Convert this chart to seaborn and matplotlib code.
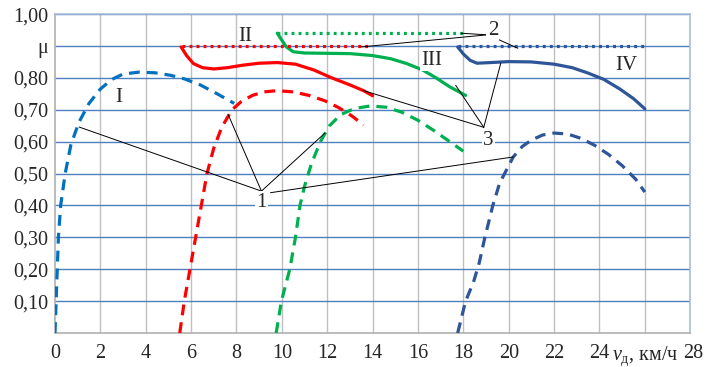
import numpy as np
import pandas as pd
import matplotlib
matplotlib.use("Agg")
import matplotlib.pyplot as plt
import matplotlib.transforms as mtransforms
import seaborn as sns

# dashed curves 1 (I..IV)
x_I = [0.0, 0.05, 0.1, 0.15, 0.25, 0.45, 0.7, 1.05, 1.5, 2.0, 2.5, 3.0, 3.7, 4.4, 5.1, 5.7, 6.4, 7.1, 7.9]
y_I = [0.0, 0.1, 0.2, 0.3, 0.4, 0.5, 0.59, 0.66, 0.72, 0.765, 0.795, 0.812, 0.818, 0.816, 0.808, 0.797, 0.778, 0.752, 0.72]
x_II = [5.5, 5.7, 5.95, 6.2, 6.45, 6.7, 7.0, 7.35, 7.8, 8.2, 8.7, 9.2, 9.8, 10.5, 11.2, 11.9, 12.5, 13.1, 13.6]
y_II = [0.0, 0.1, 0.2, 0.3, 0.4, 0.5, 0.58, 0.645, 0.7, 0.725, 0.745, 0.756, 0.76, 0.756, 0.745, 0.728, 0.707, 0.68, 0.652]
x_III = [9.75, 9.98, 10.35, 10.6, 10.8, 11.0, 11.3, 11.7, 12.1, 12.6, 13.2, 13.9, 14.6, 15.3, 16.0, 16.7, 17.4, 18.0]
y_III = [0.0, 0.1, 0.2, 0.3, 0.4, 0.46, 0.53, 0.6, 0.65, 0.685, 0.704, 0.712, 0.708, 0.692, 0.667, 0.635, 0.6, 0.57]
x_IV = [17.75, 18.1, 18.45, 18.7, 18.95, 19.3, 19.6, 20.2, 20.6, 21.0, 21.5, 22.0, 22.6, 23.2, 23.8, 24.4, 25.0, 25.6, 26.0]
y_IV = [0.0, 0.1, 0.16, 0.22, 0.3, 0.4, 0.47, 0.552, 0.585, 0.605, 0.621, 0.627, 0.624, 0.61, 0.588, 0.56, 0.525, 0.482, 0.442]

# solid curves 3
xs_II = [5.56, 5.8, 6.1, 6.5, 7.0, 7.6, 8.3, 9.0, 9.8, 10.6, 11.4, 12.2, 13.0, 13.6, 14.0]
ys_II = [0.897, 0.87, 0.845, 0.832, 0.828, 0.832, 0.84, 0.846, 0.848, 0.843, 0.825, 0.8, 0.778, 0.76, 0.744]
xs_III = [9.8, 10.0, 10.2, 10.5, 11.0, 12.0, 13.0, 14.0, 14.8, 15.5, 16.2, 16.8, 17.4, 18.1]
ys_III = [0.94, 0.918, 0.897, 0.882, 0.878, 0.877, 0.876, 0.87, 0.86, 0.845, 0.825, 0.8, 0.772, 0.745]
xs_IV = [17.75, 18.0, 18.3, 18.6, 19.2, 20.0, 21.0, 22.0, 22.8, 23.5, 24.2, 24.9, 25.5, 26.0]
ys_IV = [0.897, 0.875, 0.855, 0.846, 0.848, 0.851, 0.85, 0.843, 0.832, 0.815, 0.795, 0.765, 0.735, 0.703]

# dotted lines 2 (mu levels)
xd_II, yd_II = [5.6, 13.8], [0.9, 0.9]
xd_III, yd_III = [9.8, 18.0], [0.94, 0.94]
xd_IV, yd_IV = [17.75, 26.0], [0.9, 0.9]

y_ticks = [0.1, 0.2, 0.3, 0.4, 0.5, 0.6, 0.7, 0.8, 0.9, 1.0]
y_labels = ["0,10", "0,20", "0,30", "0,40", "0,50", "0,60", "0,70", "0,80", "μ", "1,00"]
x_ticks = list(range(0, 29, 2))
x_labels = [str(v) for v in range(0, 25, 2)] + [r"$\mathit{v}_{\mathrm{д}}$, км/ч", "28"]

BLUE, RED, GREEN, NAVY = "#0070c0", "#ff0000", "#00b050", "#2e5597"

sns.set_style("white")
plt.rcParams["font.family"] = ["Liberation Serif", "DejaVu Serif"]
plt.rcParams["mathtext.fontset"] = "custom"
plt.rcParams["mathtext.rm"] = "Liberation Serif"
plt.rcParams["mathtext.it"] = "Liberation Serif:italic"

fig = plt.figure(figsize=(7.05, 3.67), dpi=100)
ax = fig.add_axes([0.078, 0.0926, 0.901, 0.869])

dash = (0, (3.4, 2.2))
dot = (0, (0.9, 1.3))
series = [
    (x_I, y_I, BLUE, dash), (x_II, y_II, RED, dash), (x_III, y_III, GREEN, dash), (x_IV, y_IV, NAVY, dash),
    (xs_II, ys_II, RED, "-"), (xs_III, ys_III, GREEN, "-"), (xs_IV, ys_IV, NAVY, "-"),
    (xd_II, yd_II, RED, dot), (xd_III, yd_III, GREEN, dot), (xd_IV, yd_IV, NAVY, dot),
]
for xs, ys, c, ls in series:
    df = pd.DataFrame({"x": xs, "y": ys})
    sns.lineplot(data=df, x="x", y="y", ax=ax, color=c, linestyle=ls, lw=2.3,
                 sort=False, estimator=None, zorder=3)

ax.set_xlim(0, 28)
ax.set_ylim(0, 1.0)
ax.set_xticks(x_ticks)
ax.set_xticklabels(x_labels)
ax.set_yticks(y_ticks)
ax.set_yticklabels(y_labels)
ax.set_xlabel("")
ax.set_ylabel("")
ax.tick_params(axis="both", length=0, labelsize=14.5)
ax.tick_params(axis="x", pad=8)
ax.tick_params(axis="y", pad=5)
xl = ax.get_xticklabels()
xl[-1].set_transform(xl[-1].get_transform() + mtransforms.ScaledTranslation(2.5 / 72, 0, fig.dpi_scale_trans))

for v in x_ticks[1:]:
    ax.axvline(v, color="#c0c0c0", lw=1.0, zorder=0)
for v in y_ticks:
    ax.axhline(v, color="#4f7fbf", lw=1.0, zorder=0)
for s in ax.spines.values():
    s.set_color("#a9bcd6")
    s.set_linewidth(1.2)
ax.spines["bottom"].set_color("#b0b0b0")
ax.spines["left"].set_color("#b0b0b0")

box = dict(facecolor="white", edgecolor="none", pad=1)
txt = dict(fontsize=15, ha="center", va="center", zorder=5)
ax.text(2.8, 0.74, "I", **txt)
ax.text(8.4, 0.93, "II", **txt)
ax.text(16.6, 0.855, "III", bbox=box, **txt)
ax.text(25.2, 0.84, "IV", **txt)
ax.text(19.3, 0.948, "2", bbox=box, **txt)
ax.text(19.1, 0.605, "3", bbox=box, **txt)
ax.text(9.1, 0.41, "1", bbox=box, **txt)

lk = dict(color="black", lw=0.7, zorder=4)
for px, py in [(1.06, 0.646), (7.64, 0.684), (11.9, 0.627)]:
    ax.plot([9.1, px], [0.445, py], **lk)
ax.plot([9.5, 20.2], [0.44, 0.552], **lk)
for px, py in [(13.6, 0.76), (17.66, 0.777), (19.65, 0.846)]:
    ax.plot([18.9, px], [0.645, py], **lk)
ax.plot([19.05, 17.9], [0.935, 0.94], **lk)
ax.plot([19.05, 13.5], [0.935, 0.897], **lk)
ax.plot([19.4, 20.4], [0.925, 0.893], **lk)

fig.savefig("out.png", dpi=100)
